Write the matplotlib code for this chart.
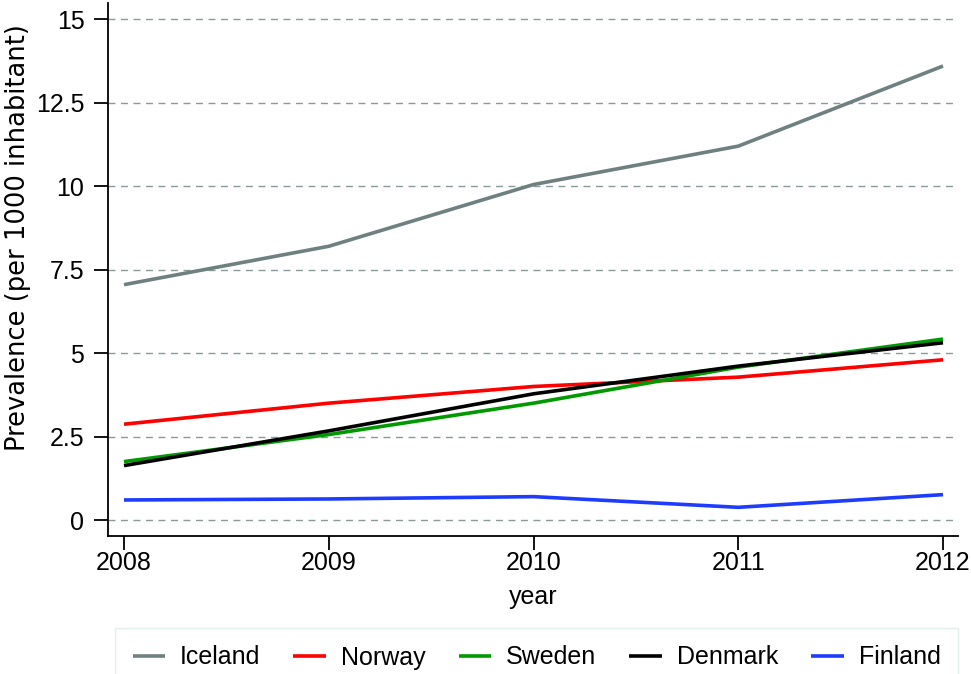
import matplotlib
matplotlib.use("Agg")
import matplotlib.pyplot as plt

years = [2008, 2009, 2010, 2011, 2012]
iceland = [7.05, 8.2, 10.05, 11.2, 13.6]
norway = [2.87, 3.50, 4.00, 4.28, 4.80]
sweden = [1.75, 2.56, 3.50, 4.58, 5.42]
denmark = [1.63, 2.67, 3.78, 4.61, 5.31]
finland = [0.60, 0.63, 0.70, 0.38, 0.76]
series_names = ["Iceland", "Norway", "Sweden", "Denmark", "Finland"]
series_values = [iceland, norway, sweden, denmark, finland]
colors = ["#6f8080", "#ff0000", "#009a00", "#000000", "#1e3cff"]
yticks = [0, 2.5, 5, 7.5, 10, 12.5, 15]
ytick_labels = ["0", "2.5", "5", "7.5", "10", "12.5", "15"]

plt.rcParams['font.family'] = ['Liberation Sans', 'DejaVu Sans']

W, H = 971, 674
fig = plt.figure(figsize=(W / 100, H / 100), dpi=100)
ax = fig.add_axes([108 / W, 1 - 536 / H, (958 - 108) / W, (536 - 3) / H])

for name, vals, c in zip(series_names, series_values, colors):
    ax.plot(years, vals, color=c, lw=2.6, label=name, solid_capstyle='butt')

ax.set_xlim(2008 - 16 / 204.75, 2012 + 15 / 204.75)
ax.set_ylim((520 - 536) / 33.38, (520 - 3) / 33.38)
ax.set_xticks(years)
ax.set_xticklabels([str(y) for y in years])
ax.set_yticks(yticks)
ax.set_yticklabels(ytick_labels)
ax.yaxis.grid(True, linestyle=(0, (5, 4)), color="#8a9a9a", lw=1.0)
ax.set_axisbelow(True)
for s in ["top", "right"]:
    ax.spines[s].set_visible(False)
for s in ["left", "bottom"]:
    ax.spines[s].set_linewidth(1.3)
ax.tick_params(axis='both', direction='out', length=10, width=1.3, labelsize=18)
ax.tick_params(axis='y', pad=7)
ax.tick_params(axis='x', pad=1)

ax.set_xlabel("year", fontsize=18, labelpad=7)
fig.text(18 / W, 1 - 238 / H, "Prevalence (per 1000 inhabitant)", rotation=90,
         ha='center', va='center', fontsize=18.5, family=['DejaVu Sans'])

leg = fig.legend(loc='upper left', bbox_to_anchor=(115 / W, 1 - 628 / H, (958 - 115) / W, 0),
                 mode='expand', ncol=5, fontsize=18, handlelength=1.3, handletextpad=0.6,
                 frameon=True, fancybox=False, borderaxespad=0, borderpad=0.7)
leg.get_frame().set_edgecolor("#dcebeb")
leg.get_frame().set_linewidth(1.0)

fig.savefig("out.png", dpi=100)
